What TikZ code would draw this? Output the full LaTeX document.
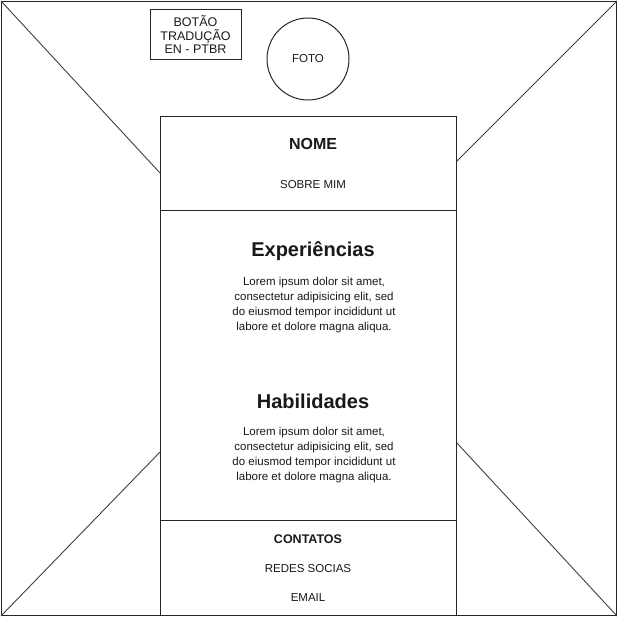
\documentclass[tikz,border=0pt]{standalone}
\usepackage{fontspec}
\setmainfont{Liberation Sans}
\begin{document}
\begin{tikzpicture}[x=1pt,y=-1pt,
  frame/.style={draw=black!85, line width=1pt},
  panel/.style={frame, fill=white, rectangle, inner sep=0pt, anchor=north west},
  cross/.style={draw=black!75, line width=0.9pt},
  label/.style={inner sep=0pt, align=center, text=black!90},
  heading/.style={label, font=\bfseries},
  body/.style={label, font=\fontsize{11.5}{15}\selectfont}]
\useasboundingbox (0,0) rectangle (617,617);
% page frame
\node[frame, rectangle, inner sep=0pt, anchor=north west, minimum width=615pt, minimum height=614pt] (page) at (1,1) {};
% corner strokes meeting the column edges
\coordinate (tl) at (160,173);
\coordinate (tr) at (456,162);
\coordinate (bl) at (160,452);
\coordinate (br) at (456,442);
\draw[cross] (page.north west) -- (tl);
\draw[cross] (page.north east) -- (tr);
\draw[cross] (page.south west) -- (bl);
\draw[cross] (page.south east) -- (br);
% central column with its three sections
\node[panel, minimum width=296pt, minimum height=94pt] (top) at (160,116) {};
\node[panel, minimum width=296pt, minimum height=310pt] (mid) at (160,210) {};
\node[panel, minimum width=296pt, minimum height=95pt] (bot) at (160,520) {};
% header elements
\node[frame, rectangle, minimum width=91pt, minimum height=50pt, inner sep=0pt] (btn) at (195.5,35) {};
\node[label, font=\fontsize{12.5}{13.5}\selectfont] (btntext) at (btn.center) {BOTÃO\\TRADUÇÃO\\EN - PTBR};
\node[frame, circle, minimum size=82pt, inner sep=0pt] (foto) at (308,59) {};
\node[label, font=\fontsize{11.5}{13}\selectfont] (fototext) at (foto.center) {FOTO};
% top section
\node[heading, font=\bfseries\fontsize{16}{18}\selectfont] (nome) at (313,144) {NOME};
\node[label, font=\fontsize{11.5}{13}\selectfont] (sobre) at (313,185) {SOBRE MIM};
% middle section
\node[heading, font=\bfseries\fontsize{20}{22}\selectfont] (exp) at (313,251) {Experiências};
\node[body] (exptext) at (314,305) {Lorem ipsum dolor sit amet,\\consectetur adipisicing elit, sed\\do eiusmod tempor incididunt ut\\labore et dolore magna aliqua.};
\node[heading, font=\bfseries\fontsize{20}{22}\selectfont] (hab) at (313,401) {Habilidades};
\node[body] (habtext) at (314,455) {Lorem ipsum dolor sit amet,\\consectetur adipisicing elit, sed\\do eiusmod tempor incididunt ut\\labore et dolore magna aliqua.};
% bottom section
\node[heading, font=\bfseries\fontsize{12.5}{14}\selectfont] (cont) at (308,539) {CONTATOS};
\node[label, font=\fontsize{11.5}{13}\selectfont] (redes) at (308,569) {REDES SOCIAS};
\node[label, font=\fontsize{11.5}{13}\selectfont] (email) at (308,598) {EMAIL};
\end{tikzpicture}
\end{document}
